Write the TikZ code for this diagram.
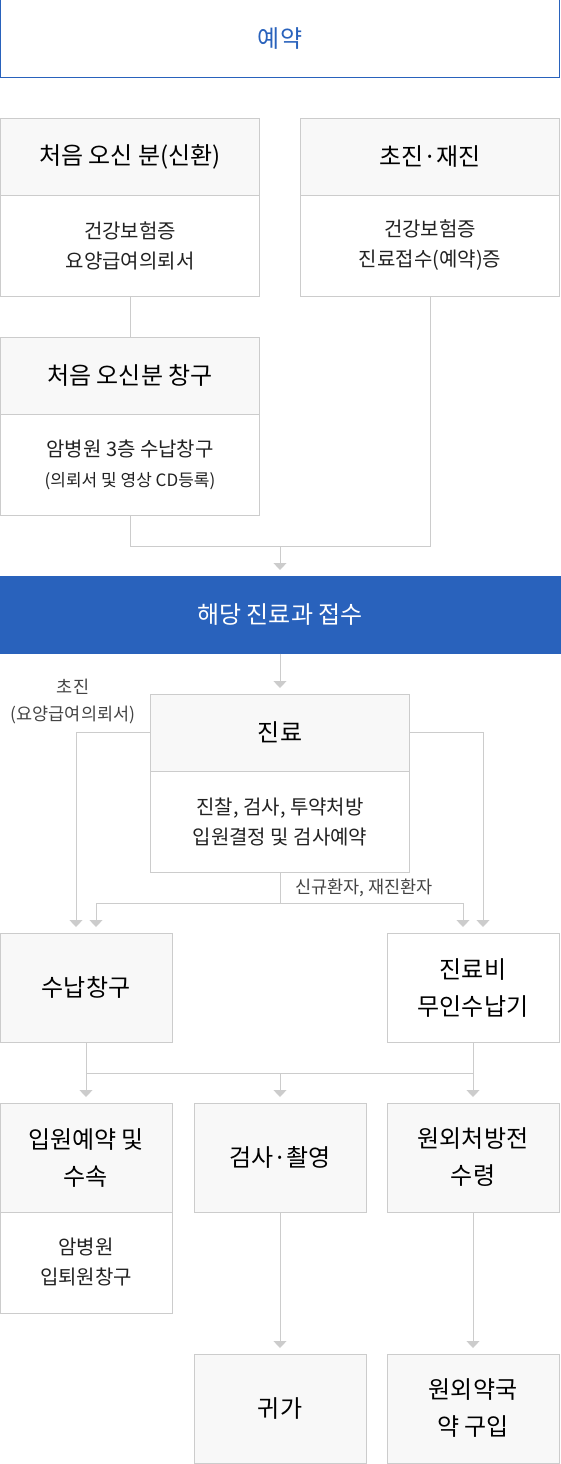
\documentclass[tikz,border=0pt]{standalone}
\usepackage{fontspec}
\setmainfont{Noto Sans CJK KR}
\usetikzlibrary{arrows.meta}
\usepackage{xcolor}
\definecolor{cBlue}{HTML}{2962BC}
\definecolor{cHead}{HTML}{F8F8F8}
\definecolor{bLine}{HTML}{CCCCCC}
\definecolor{tHead}{HTML}{000000}
\definecolor{tBody}{HTML}{222222}
\definecolor{tLbl}{HTML}{444444}
\tikzset{
  box/.style={draw=bLine, line width=1pt, align=center, inner sep=0pt, minimum width=259pt},
  headbox/.style={box, fill=cHead, minimum height=77pt, text=tHead, font=\fontsize{24}{30}\selectfont},
  bodybox/.style={box, fill=white, minimum height=101pt, text=tBody, font=\fontsize{20}{30}\selectfont},
  stepbox/.style={box, fill=cHead, minimum width=172pt, minimum height=109pt, text=tHead,
                  font=\fontsize{24}{37}\selectfont},
  smallbody/.style={bodybox, minimum width=172pt},
  line/.style={draw=bLine, line width=1pt},
  arr/.style={line, -{Triangle[width=13pt,length=7pt]}, shorten >=5.5pt},
  lbl/.style={align=center, text=tLbl, font=\fontsize{17.5}{27}\selectfont},
}
\newcommand{\smalltxt}[1]{{\fontsize{17}{20}\selectfont #1}}

\begin{document}
\begin{tikzpicture}[x=1pt, y=-1pt]
\useasboundingbox (0,0) rectangle (560,1464);

% Reservation
\node[box, draw=cBlue, text=cBlue, minimum width=559pt, minimum height=77pt,
      font=\fontsize{24}{30}\selectfont] (resv) at (280,38.5) {예약};

% New patient
\node[headbox] (newh) at (130,156.5) {처음 오신 분(신환)};
\node[bodybox] (newb) at (130,245.5) {건강보험증\\요양급여의뢰서};

% Returning patient
\node[headbox] (revh) at (430,156.5) {초진·재진};
\node[bodybox] (revb) at (430,245.5) {건강보험증\\진료접수(예약)증};

% New patient window
\node[headbox] (winh) at (130,375.5) {처음 오신분 창구};
\node[bodybox] (winb) at (130,464.5) {암병원 3층 수납창구\\\smalltxt{(의뢰서 및 영상 CD등록)}};
\draw[line] (newb.south) -- (winh.north);

% Merge to reception
\coordinate (merge) at (280,546);
\node[box, draw=cBlue, fill=cBlue, text=white, minimum width=560pt, minimum height=77pt,
      font=\fontsize{24}{30}\selectfont] (recv) at (280,614.5) {해당 진료과 접수};
\draw[line] (winb.south) |- (merge);
\draw[line] (revb.south) |- (merge);
\draw[arr] (merge) -- (recv.north);

% Consultation
\node[headbox] (clinh) at (280,732.5) {진료};
\node[bodybox] (clinb) at (280,821.5) {진찰, 검사, 투약처방\\입원결정 및 검사예약};
\draw[arr] (recv.south) -- (clinh.north);

% Payment
\node[stepbox] (pay) at (86,987.5) {수납창구};
\node[stepbox, fill=white] (kiosk) at (473,987.5) {진료비\\무인수납기};
\draw[arr] (clinh.west) -| ([xshift=-10pt]pay.north);
\draw[arr] (clinh.east) -| ([xshift=10pt]kiosk.north);
\coordinate (split) at (280,903);
\draw[line] (clinb.south) -- (split);
\draw[arr] (split) -| ([xshift=10pt]pay.north);
\draw[arr] (split) -| ([xshift=-10pt]kiosk.north);
\node[lbl] (lblfirst) at (73,701) {초진\\(요양급여의뢰서)};
\node[lbl] (lblpat) at (364,888) {신규환자, 재진환자};

% After payment
\node[stepbox] (admh) at (86,1157.5) {입원예약 및\\수속};
\node[smallbody] (admb) at (86,1262.5) {암병원\\입퇴원창구};
\node[stepbox] (exam) at (280,1157.5) {검사·촬영};
\node[stepbox] (rx) at (473,1157.5) {원외처방전\\수령};
\coordinate (join) at (280,1073);
\draw[line] (pay.south |- join) -- (kiosk.south |- join);
\draw[arr] (pay.south) -- (admh.north);
\draw[arr] (kiosk.south) -- (rx.north);
\draw[arr] (join) -- (exam.north);

% Final
\node[stepbox] (home) at (280,1408.5) {귀가};
\node[stepbox] (pharm) at (473,1408.5) {원외약국\\약 구입};
\draw[arr] (exam.south) -- (home.north);
\draw[arr] (rx.south) -- (pharm.north);

\end{tikzpicture}
\end{document}
